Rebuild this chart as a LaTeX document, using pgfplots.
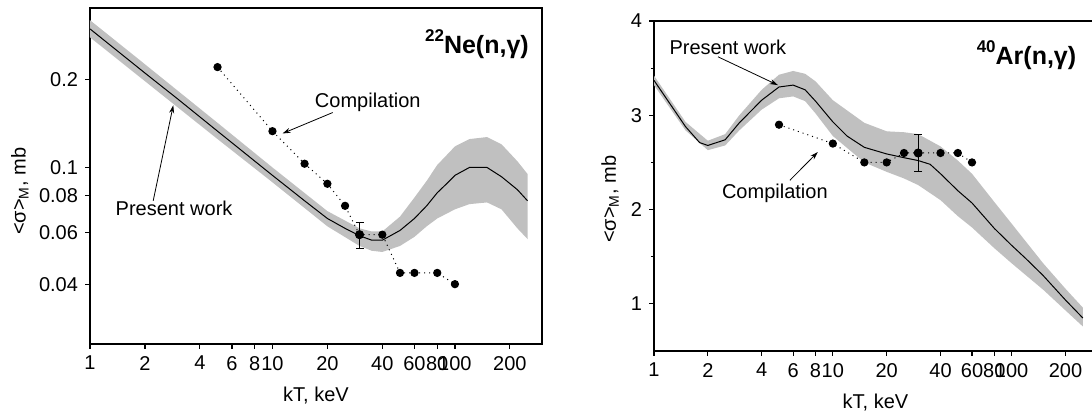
\documentclass[border=0pt]{standalone}
\usepackage{fontspec}
\setmainfont{Liberation Sans}
\usepackage{pgfplots}
\pgfplotsset{compat=1.18}
\usetikzlibrary{arrows.meta}
\definecolor{band}{RGB}{192,192,192}

\pgfplotsset{
  every axis/.append style={
    scale only axis, xmin=1, xmax=300,
    xtick={1,2,4,6,8,10,20,40,60,80,100,200},
    xticklabels={1,2,4,6,8,10,20,40,60,80,100,200},
    minor xtick={},
    tick pos=left, tick align=outside,
    major tick length=2.5pt, minor tick length=1.6pt,
    axis line style={line width=0.8pt},
    every tick/.style={black, line width=0.6pt},
    tick label style={font=\fontsize{10}{12}\selectfont},
    every axis label/.append style={font=\fontsize{10}{12}\selectfont},
    xlabel={kT, keV},
    ylabel={<σ>\textsubscript{M}, mb},
    xlabel style={at={(axis description cs:0.5,0)},anchor=center,yshift=-26pt},
  },
}
\tikzset{
  ann/.style={font=\fontsize{10}{12}\selectfont},
  arr/.style={-{Stealth[length=4pt,width=2.5pt]}, line width=0.4pt},
  ttl/.style={font=\fontsize{12.5}{14}\selectfont\bfseries},
}

\begin{document}
\begin{tikzpicture}
\useasboundingbox (-45pt,-35.5pt) rectangle (501pt,172pt);

% 22Ne
\begin{axis}[xmode=log, ymode=log, at={(0pt,0pt)}, width=226pt, height=168pt,
  /pgf/number format/assume math mode=true,
  ymin=0.025, ymax=0.35,
  ytick={0.04,0.06,0.08,0.1,0.2},
  yticklabels={0.04,0.06,0.08,0.1,0.2},
  minor ytick={},
  ylabel style={at={(axis description cs:-0.155,0.455)},anchor=center},
]
\addplot[fill=band, draw=none] coordinates {
  (1,0.318) (2,0.225) (5,0.142) (10,0.100) (20,0.071) (30,0.062) (35,0.0605)
  (40,0.0605) (50,0.068) (60,0.079) (70,0.090) (80,0.102) (100,0.118)
  (120,0.125) (150,0.127) (180,0.120) (220,0.105) (250,0.095)
  (250,0.057) (220,0.062) (180,0.072) (150,0.076) (120,0.075) (100,0.072)
  (80,0.067) (70,0.063) (60,0.058) (50,0.054) (40,0.0515) (35,0.052)
  (30,0.054) (20,0.063) (10,0.089) (5,0.125) (2,0.197) (1,0.278)
} -- cycle;
\addplot[black, line width=0.5pt, no marks] coordinates {
  (1,0.297) (2,0.210) (3,0.172) (5,0.133) (10,0.094) (15,0.077) (20,0.067)
  (25,0.062) (30,0.0585) (35,0.0565) (40,0.0565) (50,0.061) (60,0.067)
  (70,0.074) (80,0.082) (90,0.088) (100,0.094) (120,0.100) (150,0.100)
  (180,0.093) (220,0.084) (250,0.077)
};
\addplot[black, dotted, line width=0.5pt, mark=*, mark size=1.8pt, mark options={solid}] coordinates {
  (5,0.22) (10,0.133) (15,0.103) (20,0.088) (25,0.074) (30,0.059)
  (40,0.059) (50,0.0437) (60,0.0437) (80,0.0437) (100,0.040)
};
\addplot[black, line width=0.5pt, only marks, mark=none,
  error bars/y dir=both, error bars/y explicit,
  error bars/error mark options={rotate=90, mark size=2pt, line width=0.5pt}]
  coordinates {(30,0.059) +- (0,0.006)};
\node[ann] at (axis cs:2.89,0.0724) {Present work};
\draw[arr] (axis cs:2.22,0.077) -- (axis cs:2.86,0.163);
\node[ann] at (axis cs:33.3,0.167) {Compilation};
\draw[arr] (axis cs:21.4,0.154) -- (axis cs:11.35,0.1306);
\node[ttl] at (axis cs:132,0.264)
  {\raisebox{0.9ex}{\fontsize{8.5}{9}\selectfont 22}Ne(n,γ)};
\end{axis}

% 40Ar
\begin{axis}[xmode=log, at={(282pt,-3.5pt)}, width=221.5pt, height=165pt,
  /pgf/number format/assume math mode=true,
  ymin=0.5, ymax=4,
  ytick={1,2,3,4}, minor ytick={1.5,2.5,3.5},
  ylabel style={at={(axis description cs:-0.099,0.46)},anchor=center},
]
\addplot[fill=band, draw=none] coordinates {
  (1,3.42) (1.5,2.93) (2,2.73) (2.5,2.80) (3,3.00) (4,3.27) (5,3.43) (6,3.47)
  (7,3.44) (8,3.36) (10,3.16) (15,2.92) (20,2.83) (25,2.82) (30,2.80)
  (40,2.67) (50,2.52) (60,2.38) (80,2.08) (100,1.85) (150,1.43) (200,1.16)
  (250,0.96)
  (250,0.76) (200,0.93) (150,1.15) (100,1.43) (80,1.59) (60,1.81) (50,1.93)
  (40,2.10) (30,2.26) (25,2.33) (20,2.40) (15,2.50) (10,2.78) (8,3.02)
  (7,3.15) (6,3.20) (5,3.18) (4,3.06) (3,2.84) (2.5,2.68) (2,2.63)
  (1.5,2.84) (1,3.32)
} -- cycle;
\addplot[black, line width=0.5pt, no marks] coordinates {
  (1,3.37) (1.2,3.15) (1.5,2.88) (1.8,2.71) (2,2.68) (2.5,2.74) (3,2.92)
  (4,3.16) (5,3.30) (6,3.32) (7,3.27) (8,3.15) (10,2.93) (12,2.78)
  (15,2.66) (20,2.59) (25,2.55) (30,2.52) (35,2.48) (40,2.38) (50,2.20)
  (60,2.07) (80,1.80) (100,1.62) (120,1.48) (150,1.30) (200,1.04) (250,0.85)
};
\addplot[black, dotted, line width=0.5pt, mark=*, mark size=1.8pt, mark options={solid}] coordinates {
  (5,2.90) (10,2.70) (15,2.50) (20,2.50) (25,2.60) (30,2.60) (40,2.60)
  (50,2.60) (60,2.50)
};
\addplot[black, line width=0.5pt, only marks, mark=none,
  error bars/y dir=both, error bars/y explicit,
  error bars/error mark options={rotate=90, mark size=2pt, line width=0.5pt}]
  coordinates {(30,2.60) +- (0,0.20)};
\node[ann] at (axis cs:2.59,3.72) {Present work};
\draw[arr] (axis cs:2.28,3.62) -- (axis cs:4.93,3.32);
\node[ann] at (axis cs:4.74,2.17) {Compilation};
\draw[arr] (axis cs:5.75,2.31) -- (axis cs:8.24,2.61);
\node[ttl] at (axis cs:121,3.64)
  {\raisebox{0.9ex}{\fontsize{8.5}{9}\selectfont 40}Ar(n,γ)};
\end{axis}
\end{tikzpicture}
\end{document}
